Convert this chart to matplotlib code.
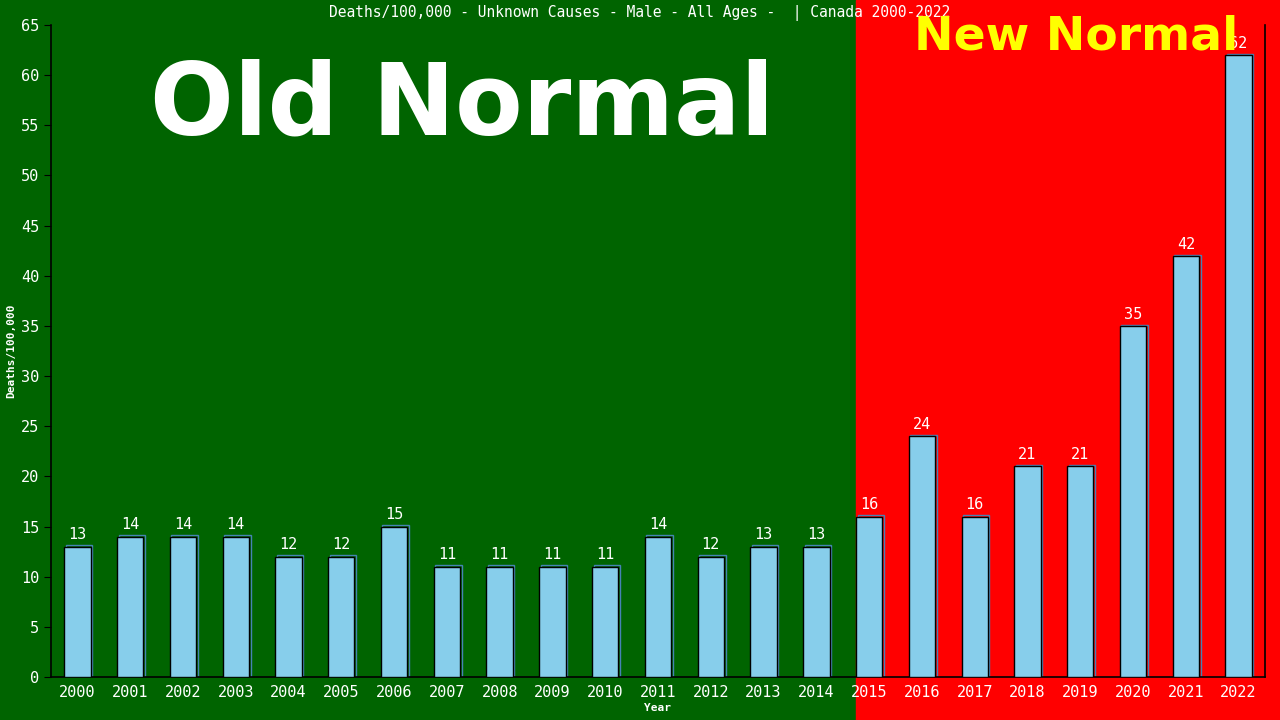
import numpy as np
import matplotlib.pyplot as plt
from matplotlib.patches import Rectangle
from matplotlib.transforms import blended_transform_factory

# deaths per 100,000, unknown causes, male, all ages, Canada
years = [str(y) for y in range(2000, 2023)]
deaths = [13, 14, 14, 14, 12, 12, 15, 11, 11, 11, 11, 14, 12, 13, 13,
          16, 24, 16, 21, 21, 35, 42, 62]
split_year = "2015"

mono = "DejaVu Sans Mono"

fig = plt.figure(figsize=(12.8, 7.2), dpi=100)
ax = fig.add_axes([51/1280, 43/720, (1265-51)/1280, (695-43)/720])
ax.set_facecolor("none")

x = np.arange(len(years))
split = years.index(split_year) - 0.25

# green / red background over the whole figure, split at the 2015 bar
tr = blended_transform_factory(ax.transData, fig.transFigure)
fig.patches.append(Rectangle((-10, 0), split + 10, 1, transform=tr,
                             color="#006400", zorder=-10))
fig.patches.append(Rectangle((split, 0), 100, 1, transform=tr,
                             color="#ff0000", zorder=-10))

# shadow then bar
ax.bar(x + 0.03, np.array(deaths) + 0.12, width=0.5, color="none",
       edgecolor="#4682b4", linewidth=1, zorder=2)
ax.bar(x, deaths, width=0.5, color="#87ceeb", edgecolor="black",
       linewidth=1, zorder=3)

for xi, v in zip(x, deaths):
    ax.annotate(str(v), (xi, v), xytext=(0, 3), textcoords="offset points",
                ha="center", va="bottom", color="white", fontsize=11,
                family=mono, zorder=4)

ax.set_xlim(-0.5, len(years) - 0.5)
ax.set_ylim(0, 65)
ax.set_yticks(range(0, 66, 5))
ax.set_xticks(x)
ax.set_xticklabels(years)
ax.tick_params(axis="x", length=0, pad=6, colors="white", labelsize=11)
ax.tick_params(axis="y", length=5, colors="black", labelcolor="white",
               labelsize=11)
for lab in ax.get_xticklabels() + ax.get_yticklabels():
    lab.set_family(mono)

ax.spines["top"].set_visible(False)
for s in ["left", "bottom", "right"]:
    ax.spines[s].set_color("black")
    ax.spines[s].set_linewidth(1.2)

ax.set_xlabel("Year", color="white", fontsize=8, fontweight="bold",
              family=mono, labelpad=2)
ax.set_ylabel("Deaths/100,000", color="white", fontsize=8,
              fontweight="bold", family=mono)
ax.yaxis.set_label_coords(-0.0285, 0.5)

fig.text(0.5, 1 - 13/720, "Deaths/100,000 - Unknown Causes - Male - All Ages -  | Canada 2000-2022",
         ha="center", va="center", color="white", fontsize=10.5, family=mono)

fig.text(462/1280, 1 - 134/720, "Old Normal", ha="center", va="baseline",
         color="white", fontsize=71, fontweight="bold")
fig.text(1076/1280, 1 - 49/720, "New Normal", ha="center", va="baseline",
         color="yellow", fontsize=34, fontweight="bold")

fig.savefig("out.png", dpi=100)
